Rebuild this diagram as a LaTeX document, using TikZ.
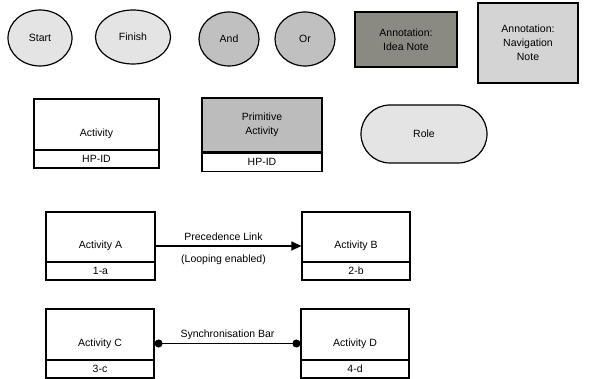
\documentclass[tikz,border=0pt]{standalone}
\usepackage{fontspec}
\setmainfont{Liberation Sans}
\usepackage{xcolor}
\usetikzlibrary{shapes,arrows.meta}

\definecolor{palegray}{HTML}{E4E4E4}
\definecolor{midgray}{HTML}{C0C0C0}
\definecolor{ideagray}{HTML}{8A8A82}
\definecolor{navgray}{HTML}{D4D4D4}
\definecolor{primgray}{HTML}{BCBCBC}

\tikzset{
	every node/.style={font=\fontsize{10.5}{14}\selectfont},
	oval/.style={ellipse,draw=black,line width=1.2pt,inner sep=0pt},
	note/.style={rectangle,draw=black,line width=1.2pt,align=center},
	actbox/.style={rectangle,draw=black,line width=1.2pt,fill=white,inner sep=0pt},
	idbox/.style={rectangle,draw=black,line width=1.2pt,fill=white,inner sep=0pt,minimum height=18pt,anchor=south}
}

\begin{document}
\begin{tikzpicture}[x=1pt,y=-1pt]
		\useasboundingbox (0,0) rectangle (597,379);

		% symbols
		\node[oval,fill=palegray,minimum width=64pt,minimum height=56pt] (start) at (40,38) {Start};
		\node[oval,fill=palegray,minimum width=75pt,minimum height=54pt] (finish) at (133,37) {Finish};
		\node[oval,fill=midgray,minimum width=60pt,minimum height=54pt] (and) at (229,39) {And};
		\node[oval,fill=midgray,minimum width=60pt,minimum height=54pt] (or) at (305,39) {Or};
		\node[note,fill=ideagray,minimum width=102pt,minimum height=55pt] (idea) at (406,39.5) {Annotation:\\Idea Note};
		\node[note,fill=navgray,minimum width=100pt,minimum height=80pt,line width=1.5pt] (nav) at (528,43) {Annotation:\\Navigation\\Note};

		\node[actbox,minimum width=125pt,minimum height=69pt] (act) at (96.5,133.5) {Activity};
		\node[idbox,minimum width=125pt] (actid) at (act.south) {HP-ID};
		\node[actbox,fill=primgray,align=center,minimum width=120pt,minimum height=54pt] (prim) at (262,125) {Primitive\\Activity};
		\node[idbox,anchor=north,minimum width=120pt] (primid) at (prim.south) {HP-ID};
		\node[rectangle,rounded corners=29pt,draw=black,line width=1.2pt,fill=palegray,minimum width=126pt,minimum height=58pt] (role) at (424,134) {Role};

		% links
		\node[actbox,minimum width=109pt,minimum height=68pt] (actA) at (100.5,246) {Activity A};
		\node[idbox,minimum width=109pt] (actAid) at (actA.south) {1-a};
		\node[actbox,minimum width=108pt,minimum height=68pt] (actB) at (356,246) {Activity B};
		\node[idbox,minimum width=108pt] (actBid) at (actB.south) {2-b};

		\node[actbox,minimum width=108pt,minimum height=69pt] (actC) at (100,343.5) {Activity C};
		\node[idbox,minimum width=108pt] (actCid) at (actC.south) {3-c};
		\node[actbox,minimum width=108pt,minimum height=69pt] (actD) at (355,343.5) {Activity D};
		\node[idbox,minimum width=108pt] (actDid) at (actD.south) {4-d};

		\draw[line width=1.2pt,-{Triangle[length=10pt,width=9pt]}] (actA) -- node[above=1pt,xshift=-5pt] (prec) {Precedence Link} node[below=5pt,xshift=-5pt] (loop) {(Looping enabled)} (actB);
		\draw[line width=1.2pt,{Circle[length=8pt]}-{Circle[length=8pt]}] (actC) -- node[above=0pt] (sync) {Synchronisation Bar} (actD);
	\end{tikzpicture}
\end{document}
